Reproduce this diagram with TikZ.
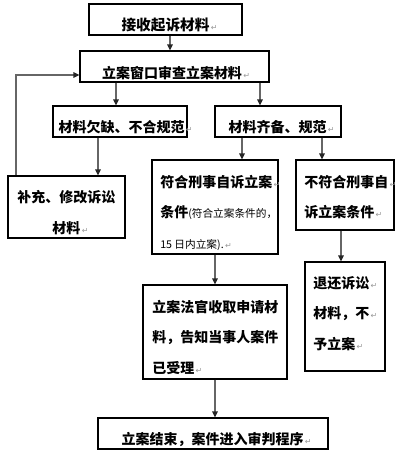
\documentclass[tikz,border=0pt]{standalone}
\usepackage{fontspec}
\setmainfont{Noto Sans CJK SC}
\newfontfamily\markfont{DejaVu Sans}
\usetikzlibrary{arrows.meta}
\newcommand\retmark{\rlap{\markfont\mdseries\fontsize{6}{6}\selectfont\color{black!40}\,↵}}
\newcommand\smalltxt[1]{{\mdseries\fontsize{8}{9}\selectfont #1}}

\begin{document}
\begin{tikzpicture}[x=0.75pt,y=-0.75pt,
  box/.style 2 args={draw,line width=0.8pt,inner sep=0pt,minimum width=#1*0.75pt,minimum height=#2*0.75pt},
  txt/.style={inner sep=0pt,font=\bfseries\fontsize{10.5}{22.9}\selectfont},
  arr/.style={draw=black!60,line width=1.3pt,-{Triangle[length=4.5pt,width=4pt,color=black!85]}}]
 \useasboundingbox (0,0) rectangle (411,454);
 % boxes
 \node[box={153}{31}] (b1) at (165.5,19.5) {};
 \node[box={189}{31}] (b2) at (174.5,66.5) {};
 \node[box={134}{31}] (b3) at (120,121.5) {};
 \node[box={126}{31}] (b4) at (278,121.5) {};
 \node[box={117}{62}] (b5) at (66.5,207) {};
 \node[box={126}{94}] (b6) at (215,207) {};
 \node[box={98}{70}] (b7) at (345,195) {};
 \node[box={144}{94}] (b8) at (215,332) {};
 \node[box={80}{109}] (b9) at (345,316.5) {};
 \node[box={230}{31}] (b10) at (213,433.5) {};
 % texts
 \node[txt,font=\bfseries\fontsize{11}{22.9}\selectfont] (t1) at (165.5,25) {接收起诉材料\retmark};
 \node[txt] (t2) at (172,73) {立案窗口审查立案材料\retmark};
 \node[txt] (t3) at (121.5,127) {材料欠缺、不合规范\retmark};
 \node[txt] (t4) at (277.5,127) {材料齐备、规范\retmark};
 \node[txt,align=center] (t5) at (66.5,212.5) {补充、修改诉讼\\材料\retmark};
 \node[txt,align=left,anchor=north west] (t6) at (160,175) {符合刑事自诉立案\retmark\\条件\smalltxt{(符合立案条件的，}\\\smalltxt{15 日内立案).}\retmark};
 \node[txt,align=left,anchor=north west] (t7) at (304,175) {不符合刑事自\retmark\\诉立案条件\retmark};
 \node[txt,align=left,anchor=north west] (t8) at (152,300) {立案法官收取申请材\\料，告知当事人案件\\已受理\retmark};
 \node[txt,align=left,anchor=north west] (t9) at (313,276) {退还诉讼\retmark\\材料，不\retmark\\予立案\retmark};
 \node[txt] (t10) at (212.5,439) {立案结束，案件进入审判程序\retmark};
 % arrows
 \draw[arr] ([xshift=4.5*0.75]b1.south) -- ([xshift=4.5*0.75]b1.south |- b2.north);
 \draw[arr] ([xshift=-58.5*0.75]b2.south) -- ([xshift=-58.5*0.75]b2.south |- b3.north);
 \draw[arr] ([xshift=85.5*0.75]b2.south) -- ([xshift=85.5*0.75]b2.south |- b4.north);
 \draw[arr] ([xshift=-22*0.75]b3.south) -- ([xshift=-22*0.75]b3.south |- b5.north);
 \draw[arr] ([xshift=-36*0.75]b4.south) -- ([xshift=-36*0.75]b4.south |- b6.north);
 \draw[arr] ([xshift=44*0.75]b4.south) -- ([xshift=44*0.75]b4.south |- b7.north);
 \draw[arr] (b6.south) -- (b8.north);
 \draw[arr] ([xshift=-4*0.75]b7.south) -- ([xshift=-4*0.75]b7.south |- b9.north);
 \draw[arr] (b8.south) -- (b8.south |- b10.north);
 % back to the window check
 \coordinate (fb) at (16,75);
 \draw[arr] (b5.north -| fb) -- (fb) -- (b2.west |- fb);
\end{tikzpicture}
\end{document}
